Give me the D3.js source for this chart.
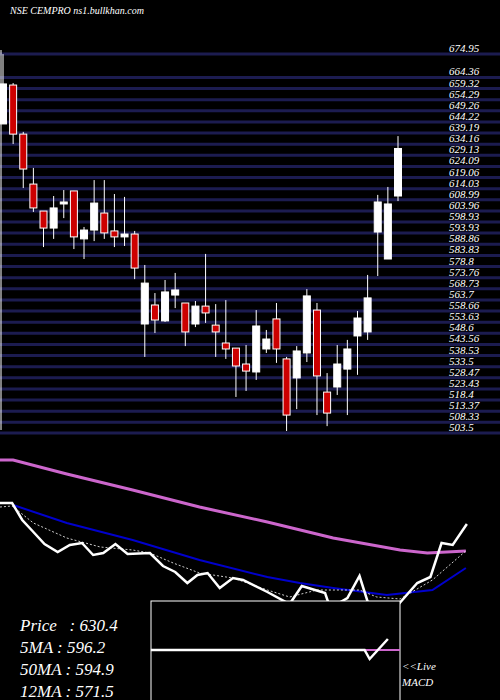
<!DOCTYPE html>
<html>
<head>
<meta charset="utf-8">
<script src="https://cdn.jsdelivr.net/npm/d3@7"></script>
<style>
  body { margin: 0; background: #000; }
  text { font-family: "Liberation Serif", "DejaVu Serif", serif; font-style: italic; fill: #fff; }
</style>
</head>
<body>
<div id="chart"></div>
<script>
  "use strict";

  // Candles: open, high, low, close
  var opens  = [641.5,659.1,636.9,614.3,602.1,594.4,605.7,611.2,589.5,593.5,601.2,593.1,590.4,591.7,551.0,559.6,552.4,564.1,560.5,551.0,559.1,550.5,542.4,540.1,532.9,529.3,539.7,553.3,535.2,526.6,537.9,557.3,520.2,522.5,530.6,545.6,547.4,592.6,580.4,608.9];
  var highs  = [673.1,660.0,637.9,621.6,602.1,608.9,611.6,611.2,594.9,616.1,616.1,609.8,608.5,593.1,577.7,565.0,570.9,574.1,560.5,561.4,582.7,560.0,561.8,540.1,541.5,557.3,548.3,560.5,536.1,541.0,566.8,560.5,528.8,541.5,543.8,556.9,573.2,609.4,613.0,636.0];
  var lows   = [641.5,632.4,612.5,601.7,585.8,589.5,598.9,584.9,580.4,588.5,589.5,585.8,586.3,571.3,536.1,546.9,551.9,558.2,541.0,549.6,551.5,536.1,535.2,518.0,520.7,525.7,537.9,533.4,502.6,512.5,533.8,509.8,504.8,518.9,509.8,528.0,543.8,572.7,580.4,606.6];
  var closes = [659.6,636.9,621.1,603.5,594.4,603.5,606.2,590.4,593.5,605.7,592.2,590.4,591.7,576.3,569.5,552.8,565.5,566.4,547.4,559.1,556.0,547.4,539.7,532.0,529.7,550.1,544.2,539.7,509.8,538.8,563.7,527.5,510.7,532.9,539.7,553.7,562.8,606.2,605.3,630.4];

  // Price grid labels
  var tickLabels = [674.95,664.36,659.32,654.29,649.26,644.22,639.19,634.16,629.13,624.09,619.06,614.03,608.99,603.96,598.93,593.93,588.86,583.83,578.8,573.76,568.73,563.7,558.66,553.63,548.6,543.56,538.53,533.5,528.47,523.43,518.4,513.37,508.33,503.5];

  // Indicator panel (x in bar index, y in panel level)
  var longMaIdx = [-0.3,1,6.3,12.8,19.4,26.1,32.6,39.2,41.9,45.7];
  var longMaLvl = [160,160,146,130,113,98,82,70,67,69];
  var midMaIdx = [1,6.3,12.8,19.4,26.1,29.3,32.6,37.9,42.4,45.7];
  var midMaLvl = [115,97,80,60,43,37,32,25,30,52];
  var priceIdx = [-0.3,0.9,1.9,3,4.1,5.4,6.6,7.8,8.9,9.9,11.1,12.3,14.5,15.8,17,18.2,19.2,20.2,21.4,22.7,23.7,26.1,28.3,29.5,31.8,32.3,34,35.2,36.2,38.9,40.9,42.2,43.3,44.4,45.8];
  var priceLvl = [117,117,100,88,76,68,75,77,65,67,76,66,67,54,48,37,45,47,32,42,40,28,16,34,27,12,22,44,12,14,37,43,77,75,96];
  var shortMaIdx = [-0.3,0.9,3,6.3,9.6,12.8,14.5,16.8,19.4,22.7,26.1,28.3,31,35.2,36.9,39.2,42.4,45.8];
  var shortMaLvl = [113,114,97,82,73,70,67,57,47,42,30,23,30,30,23,21,40,70];
  var macdIdx = [14.6,20,30,35.7,36.2,38];
  var macdLvl = [0,0,0,0,-9,11];

  var legend = ["Price   : 630.4", "5MA : 596.2", "50MA : 594.9", "12MA : 571.5"];

  var width = 500, height = 700;
  var svg = d3.select("#chart").append("svg").attr("width", width).attr("height", height)
    .style("background", "#000");

  var x = d3.scaleLinear().domain([0, 39]).range([3, 398]);
  var y = d3.scaleLinear().domain([503.5, 674.95]).range([429, 50]);
  var yInd = d3.scaleLinear().domain([0, 160]).range([620, 460]);
  var yMacd = d3.scaleLinear().domain([-10, 10]).range([660, 640]);

  svg.append("text").attr("x", 10).attr("y", 14).attr("font-size", 10)
    .text("NSE CEMPRO ns1.bullkhan.com");

  // Grid and labels
  svg.selectAll(".grid").data(tickLabels).enter().append("line")
    .attr("x1", 0).attr("x2", width)
    .attr("y1", function (d) { return y(d) + 4; }).attr("y2", function (d) { return y(d) + 4; })
    .attr("stroke", "#1c1c50").attr("stroke-width", 3);
  svg.selectAll(".lab").data(tickLabels).enter().append("text")
    .attr("x", 449).attr("y", function (d) { return y(d) + 2; })
    .attr("font-size", 11).attr("font-style", "normal")
    .text(function (d) { return d; });

  svg.append("line").attr("x1", 1).attr("x2", 1).attr("y1", 50).attr("y2", 430)
    .attr("stroke", "#fff").attr("stroke-width", 1);

  // Candles
  var idx = d3.range(opens.length);
  svg.selectAll(".wick").data(idx).enter().append("line")
    .attr("x1", function (i) { return x(i); }).attr("x2", function (i) { return x(i); })
    .attr("y1", function (i) { return y(highs[i]); }).attr("y2", function (i) { return y(lows[i]); })
    .attr("stroke", "#fff").attr("stroke-width", 1);
  svg.selectAll(".body").data(idx).enter().append("rect")
    .attr("x", function (i) { return x(i) - 3.5; }).attr("width", 7)
    .attr("y", function (i) { return y(Math.max(opens[i], closes[i])); })
    .attr("height", function (i) { return Math.max(2, Math.abs(y(opens[i]) - y(closes[i]))); })
    .attr("fill", function (i) { return closes[i] >= opens[i] ? "#fff" : "#cc0000"; })
    .attr("stroke", "#fff").attr("stroke-width", 1);

  // Indicator lines
  function path(xs, ys, sy) {
    return d3.line().x(function (d, i) { return x(xs[i]); }).y(function (d, i) { return sy(ys[i]); })(xs);
  }
  svg.append("path").attr("d", path(longMaIdx, longMaLvl, yInd)).attr("fill", "none").attr("stroke", "#cc66cc").attr("stroke-width", 3);
  svg.append("path").attr("d", path(midMaIdx, midMaLvl, yInd)).attr("fill", "none").attr("stroke", "#0000cc").attr("stroke-width", 2);
  svg.append("path").attr("d", path(shortMaIdx, shortMaLvl, yInd)).attr("fill", "none").attr("stroke", "#fff").attr("stroke-width", 0.8).attr("stroke-dasharray", "2,2");
  svg.append("path").attr("d", path(priceIdx, priceLvl, yInd)).attr("fill", "none").attr("stroke", "#fff").attr("stroke-width", 2.5);

  // MACD box
  svg.append("rect").attr("x", 151).attr("y", 601).attr("width", 249).attr("height", 100)
    .attr("fill", "#000").attr("stroke", "#fff").attr("stroke-width", 1);
  svg.append("line").attr("x1", x(35.7)).attr("x2", 400).attr("y1", yMacd(0)).attr("y2", yMacd(0))
    .attr("stroke", "#cc66cc").attr("stroke-width", 2);
  svg.append("path").attr("d", path(macdIdx, macdLvl, yMacd)).attr("fill", "none").attr("stroke", "#fff").attr("stroke-width", 2.5);

  svg.selectAll(".leg").data(legend).enter().append("text")
    .attr("x", 20).attr("y", function (d, i) { return 631 + i * 22; })
    .attr("font-size", 17).attr("xml:space", "preserve").text(function (d) { return d; });
  svg.append("text").attr("x", 402).attr("y", 670).attr("font-size", 11).text("<<Live");
  svg.append("text").attr("x", 402).attr("y", 686).attr("font-size", 11).text("MACD");
</script>
</body>
</html>
